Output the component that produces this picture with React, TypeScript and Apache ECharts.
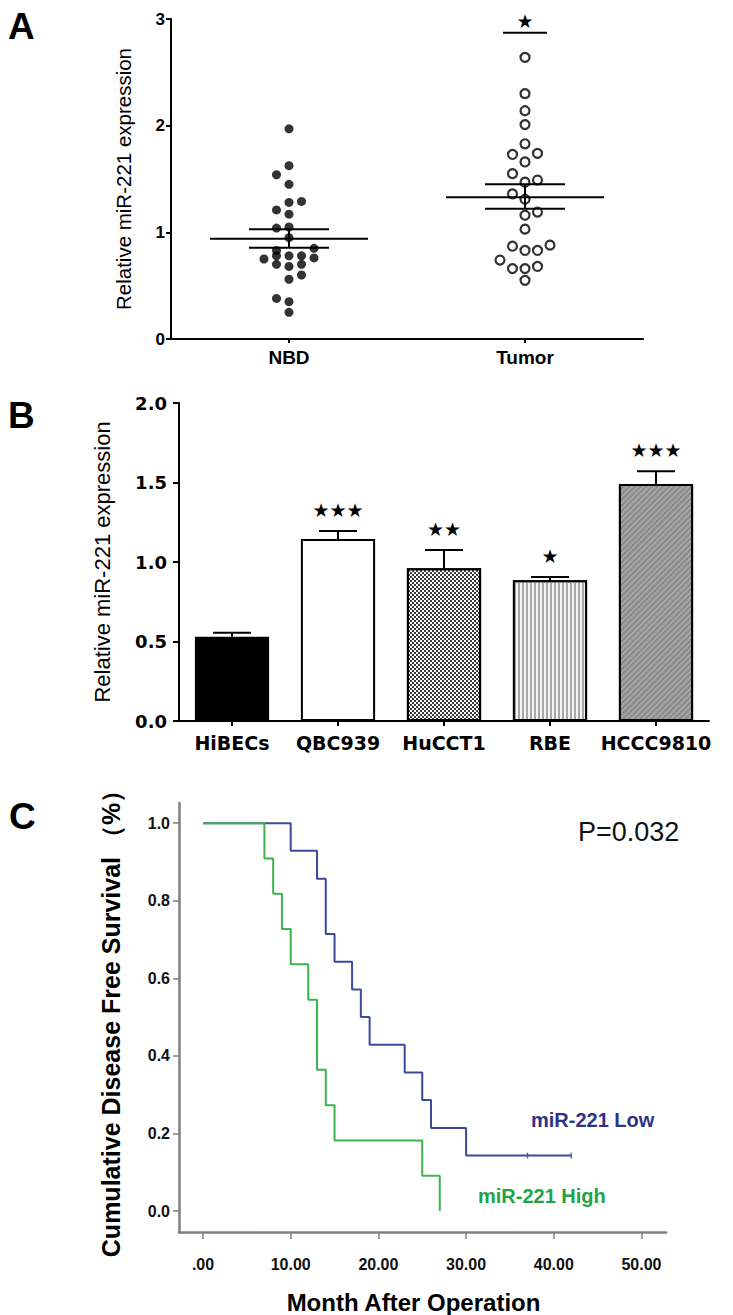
import React, { useEffect, useRef } from "react";
import * as echarts from "echarts";

// ---------- Panel A data ----------
const aCategories = ["NBD", "Tumor"];
const aCategoryX = [1, 3];
const aColumnStep = 0.106;
// [column offset, value]
const nbdPoints: [number, number][] = [
  [0, 1.97], [0, 1.625], [-1, 1.54], [0, 1.45], [0, 1.28], [1, 1.29], [-1, 1.21], [0, 1.17],
  [-1, 1.04], [0, 1.05], [0, 0.95], [-1, 0.83], [2, 0.85], [-2, 0.75], [-1, 0.78], [0, 0.78],
  [1, 0.78], [2, 0.76], [-1, 0.7], [0, 0.68], [1, 0.7], [1, 0.6], [0, 0.56], [-1, 0.38],
  [0, 0.35], [0, 0.25],
];
const tumorPoints: [number, number][] = [
  [0, 2.64], [0, 2.3], [0, 2.14], [0, 2.01], [0, 1.83], [-1, 1.73], [1, 1.74], [0, 1.66],
  [-1, 1.55], [0, 1.47], [1, 1.49], [-1, 1.36], [0, 1.31], [0, 1.16], [1, 1.19], [0, 1.03],
  [-1, 0.87], [0, 0.83], [1, 0.83], [2, 0.88], [-2, 0.74], [-1, 0.66], [0, 0.66], [1, 0.68],
  [0, 0.55],
];
const aMeans = [0.94, 1.33];
const aSemLow = [0.855, 1.22];
const aSemHigh = [1.03, 1.45];
const aSigLineY = 2.87;
const aSigText = "★";
const aYTicks = [0, 1, 2, 3];

// ---------- Panel B data ----------
const bCells = ["HiBECs", "QBC939", "HuCCT1", "RBE", "HCCC9810"];
const bMeans = [0.53, 1.145, 0.96, 0.885, 1.49];
const bErrors = [0.025, 0.05, 0.115, 0.02, 0.08];
const bStars = ["", "★★★", "★★", "★", "★★★"];

// ---------- Panel C data ----------
const cHigh: [number, number][] = [
  [0, 1], [7, 0.909], [8, 0.818], [9, 0.727], [10, 0.636], [12, 0.545], [13, 0.364],
  [14, 0.273], [15, 0.182], [25, 0.091], [27, 0],
];
const cLow: [number, number][] = [
  [0, 1], [10, 0.929], [13, 0.857], [14, 0.714], [15, 0.643], [17, 0.571], [18, 0.5],
  [19, 0.429], [23, 0.357], [25, 0.286], [26, 0.214], [30, 0.143], [42, 0.143],
];
const cLowCensored: [number, number][] = [[37, 0.143], [42, 0.143]];
const cXTicks = [0, 10, 20, 30, 40, 50];
const cYTicks = [0, 0.2, 0.4, 0.6, 0.8, 1.0];

const ARIAL = "'Liberation Sans', Arial, sans-serif";
const DEJAVU = "'DejaVu Sans', sans-serif";
const BLUE = "#3d4a9c";
const GREEN = "#3fb24e";

export default function App() {
  const ref = useRef<HTMLDivElement>(null);
  useEffect(() => {
    if (!ref.current) return;
    const chart = echarts.init(ref.current, undefined, { renderer: "svg" });

    const nbdData = nbdPoints.map(([c, v]) => [aCategoryX[0] + c * aColumnStep, v]);
    const tumorData = tumorPoints.map(([c, v]) => [aCategoryX[1] + c * aColumnStep, v]);
    const summaryData = aCategoryX.map((x, i) => [x, aMeans[i], aSemLow[i], aSemHigh[i]]);

    const blackLine = (x1: number, y1: number, x2: number, y2: number, w = 2, c = "#000") => ({
      type: "line",
      shape: { x1, y1, x2, y2 },
      style: { stroke: c, lineWidth: w },
    });

    const barColors = [
      { color: "#000" },
      { color: "#fff" },
      {
        color: "#ffffff",
        decal: {
          symbol: "rect",
          symbolSize: 1,
          color: "#3a3a3a",
          dashArrayX: [[1.5, 1.5], [0, 1.5, 1.5, 0]],
          dashArrayY: [1.5, 0],
        },
      },
      {
        color: "#f4f4f4",
        decal: {
          symbol: "rect",
          symbolSize: 1,
          color: "#a8a8a8",
          dashArrayX: [1, 0],
          dashArrayY: [1.5, 1.5],
          rotation: Math.PI / 2,
        },
      },
      {
        color: "#a6a6a6",
        decal: {
          symbol: "rect",
          symbolSize: 1,
          color: "#8a8a8a",
          dashArrayX: [1, 0],
          dashArrayY: [1.5, 2],
          rotation: -Math.PI / 4,
        },
      },
    ];

    const option: any = {
      animation: false,
      backgroundColor: "#fff",
      grid: [
        { left: 171, top: 19, width: 472, height: 320 },
        { left: 179, top: 403, width: 530, height: 318 },
        { left: 179, top: 803, width: 487, height: 429 },
      ],
      xAxis: [
        {
          gridIndex: 0,
          type: "value",
          min: 0,
          max: 4,
          splitLine: { show: false },
          axisLine: { show: true, onZero: false, lineStyle: { color: "#000", width: 2 } },
          axisTick: { show: true, customValues: aCategoryX, length: 4, lineStyle: { color: "#000", width: 2 } },
          axisLabel: {
            customValues: aCategoryX,
            formatter: (v: number) => aCategories[aCategoryX.indexOf(v)] ?? "",
            fontFamily: ARIAL,
            fontWeight: "bold",
            fontSize: 19,
            color: "#000",
            margin: 9,
          },
        },
        {
          gridIndex: 1,
          type: "category",
          data: bCells,
          axisLine: { show: true, lineStyle: { color: "#000", width: 2 } },
          axisTick: { show: true, alignWithLabel: true, length: 5, lineStyle: { color: "#000", width: 2 } },
          axisLabel: {
            fontFamily: DEJAVU,
            fontWeight: "bold",
            fontSize: 19,
            color: "#000",
            margin: 12,
            interval: 0,
          },
        },
        {
          gridIndex: 2,
          type: "value",
          min: -2.74,
          max: 52.8,
          splitLine: { show: false },
          axisLine: { show: true, onZero: false, lineStyle: { color: "#7f7f7f", width: 2.5 } },
          axisTick: { show: true, customValues: cXTicks, length: 7, lineStyle: { color: "#7f7f7f", width: 1.5 } },
          axisLabel: {
            customValues: cXTicks,
            formatter: (v: number) => (v === 0 ? ".00" : v.toFixed(2)),
            fontFamily: ARIAL,
            fontWeight: "bold",
            fontSize: 16,
            color: "#111",
            margin: 24,
          },
          name: "Month After Operation",
          nameLocation: "middle",
          nameGap: 58,
          nameTextStyle: {
            fontFamily: ARIAL,
            fontWeight: "bold",
            fontSize: 24,
            color: "#000",
            padding: [0, 18, 0, 0],
          },
        },
      ],
      yAxis: [
        {
          gridIndex: 0,
          type: "value",
          min: 0,
          max: 3,
          interval: 1,
          splitLine: { show: false },
          axisLine: { show: true, onZero: false, lineStyle: { color: "#000", width: 2 } },
          axisTick: { show: true, length: 5, lineStyle: { color: "#000", width: 2 } },
          axisLabel: {
            customValues: aYTicks,
            fontFamily: ARIAL,
            fontWeight: "bold",
            fontSize: 17,
            color: "#000",
            margin: 6,
          },
          name: "Relative miR-221 expression",
          nameLocation: "middle",
          nameGap: 37,
          nameTextStyle: { fontFamily: ARIAL, fontSize: 20.5, color: "#000" },
        },
        {
          gridIndex: 1,
          type: "value",
          min: 0,
          max: 2,
          interval: 0.5,
          splitLine: { show: false },
          axisLine: { show: true, lineStyle: { color: "#000", width: 2 } },
          axisTick: { show: true, length: 6, lineStyle: { color: "#000", width: 2 } },
          axisLabel: {
            formatter: (v: number) => v.toFixed(1),
            fontFamily: DEJAVU,
            fontWeight: "bold",
            fontSize: 18,
            color: "#000",
            margin: 12,
          },
          name: "Relative miR-221 expression",
          nameLocation: "middle",
          nameGap: 66,
          nameTextStyle: { fontFamily: ARIAL, fontSize: 22, color: "#000" },
        },
        {
          gridIndex: 2,
          type: "value",
          min: -0.054,
          max: 1.052,
          splitLine: { show: false },
          axisLine: { show: true, onZero: false, lineStyle: { color: "#7f7f7f", width: 2.5 } },
          axisTick: { show: true, customValues: cYTicks, length: 6, lineStyle: { color: "#7f7f7f", width: 1.5 } },
          axisLabel: {
            customValues: cYTicks,
            formatter: (v: number) => v.toFixed(1),
            fontFamily: ARIAL,
            fontWeight: "bold",
            fontSize: 16,
            color: "#111",
            margin: 9,
          },
          name: "Cumulative Disease Free Survival （%）",
          nameLocation: "middle",
          nameGap: 56,
          nameTextStyle: { fontFamily: ARIAL, fontWeight: "bold", fontSize: 25, color: "#000" },
        },
      ],
      series: [
        {
          name: "NBD",
          type: "scatter",
          xAxisIndex: 0,
          yAxisIndex: 0,
          data: nbdData,
          symbol: "circle",
          symbolSize: 9,
          itemStyle: { color: "#000" },
          z: 2,
        },
        {
          name: "Tumor",
          type: "scatter",
          xAxisIndex: 0,
          yAxisIndex: 0,
          data: tumorData,
          symbol: "circle",
          symbolSize: 9,
          itemStyle: { color: "#fff", borderColor: "#000", borderWidth: 2.2 },
          z: 2,
        },
        {
          name: "A summary",
          type: "custom",
          xAxisIndex: 0,
          yAxisIndex: 0,
          z: 3,
          data: summaryData,
          renderItem: (params: any, api: any) => {
            const x = api.value(0);
            const m = api.coord([x, api.value(1)]);
            const lo = api.coord([x, api.value(2)]);
            const hi = api.coord([x, api.value(3)]);
            return {
              type: "group",
              children: [
                blackLine(m[0] - 79, m[1], m[0] + 79, m[1]),
                blackLine(m[0] - 40, lo[1], m[0] + 40, lo[1]),
                blackLine(m[0] - 40, hi[1], m[0] + 40, hi[1]),
                blackLine(m[0], lo[1], m[0], hi[1]),
              ],
            };
          },
        },
        {
          name: "A significance",
          type: "custom",
          xAxisIndex: 0,
          yAxisIndex: 0,
          z: 3,
          data: [[aCategoryX[1], aSigLineY]],
          renderItem: (params: any, api: any) => {
            const p = api.coord([api.value(0), api.value(1)]);
            return {
              type: "group",
              children: [
                blackLine(p[0] - 22, p[1], p[0] + 22, p[1]),
                {
                  type: "text",
                  style: {
                    text: aSigText,
                    x: p[0],
                    y: p[1] - 12,
                    align: "center",
                    verticalAlign: "middle",
                    fontSize: 19,
                    fontFamily: DEJAVU,
                    fill: "#000",
                  },
                },
              ],
            };
          },
        },
        {
          name: "Cell lines",
          type: "bar",
          xAxisIndex: 1,
          yAxisIndex: 1,
          barWidth: "70%",
          data: bMeans.map((v, i) => ({
            value: v,
            itemStyle: { ...barColors[i], borderColor: "#000", borderWidth: 2 },
          })),
        },
        {
          name: "Cell line error",
          type: "custom",
          xAxisIndex: 1,
          yAxisIndex: 1,
          z: 3,
          data: bMeans.map((v, i) => [i, v, bErrors[i]]),
          renderItem: (params: any, api: any) => {
            const i = api.value(0);
            const m = api.coord([i, api.value(1)]);
            const top = api.coord([i, api.value(1) + api.value(2)]);
            const star = bStars[params.dataIndex];
            const children: any[] = [
              blackLine(m[0], m[1], m[0], top[1]),
              blackLine(m[0] - 19, top[1], m[0] + 19, top[1]),
            ];
            if (star) {
              children.push({
                type: "text",
                style: {
                  text: star,
                  x: m[0],
                  y: top[1] - 21,
                  align: "center",
                  verticalAlign: "middle",
                  fontSize: 19,
                  fontFamily: DEJAVU,
                  fill: "#000",
                },
              });
            }
            return { type: "group", children };
          },
        },
        {
          name: "miR-221 High",
          type: "line",
          xAxisIndex: 2,
          yAxisIndex: 2,
          step: "end",
          showSymbol: false,
          data: cHigh,
          lineStyle: { color: GREEN, width: 2 },
          itemStyle: { color: GREEN },
          z: 3,
        },
        {
          name: "miR-221 Low",
          type: "line",
          xAxisIndex: 2,
          yAxisIndex: 2,
          step: "end",
          showSymbol: false,
          data: cLow,
          lineStyle: { color: BLUE, width: 2 },
          itemStyle: { color: BLUE },
          z: 2,
        },
        {
          name: "Low censored",
          type: "scatter",
          xAxisIndex: 2,
          yAxisIndex: 2,
          data: cLowCensored,
          symbol: "rect",
          symbolSize: [1.5, 6],
          itemStyle: { color: BLUE },
          z: 4,
        },
      ],
      graphic: [
        { type: "text", left: 8, top: 8, style: { text: "A", fontFamily: ARIAL, fontWeight: "bold", fontSize: 37, fill: "#000" } },
        { type: "text", left: 8, top: 397, style: { text: "B", fontFamily: ARIAL, fontWeight: "bold", fontSize: 37, fill: "#000" } },
        { type: "text", left: 9, top: 798, style: { text: "C", fontFamily: ARIAL, fontWeight: "bold", fontSize: 37, fill: "#000" } },
        { type: "text", left: 578, top: 818, style: { text: "P=0.032", fontFamily: ARIAL, fontSize: 27, fill: "#111" } },
        { type: "text", left: 531, top: 1110, style: { text: "miR-221 Low", fontFamily: ARIAL, fontWeight: "bold", fontSize: 20, fill: "#2d3385" } },
        { type: "text", left: 478, top: 1186, style: { text: "miR-221 High", fontFamily: ARIAL, fontWeight: "bold", fontSize: 20, fill: "#22a34a" } },
      ],
    };
    chart.setOption(option);
    return () => chart.dispose();
  }, []);

  return (
    <div
      ref={ref}
      style={{ position: "absolute", left: 0, top: 0, width: 733, height: 1315, background: "#fff" }}
    />
  );
}
